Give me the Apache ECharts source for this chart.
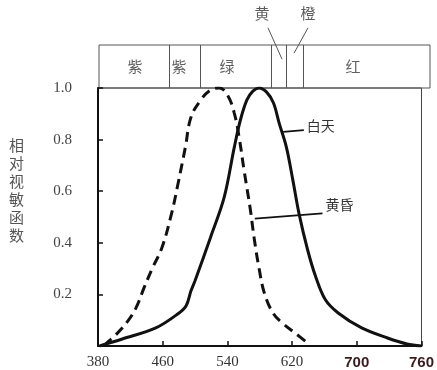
<!DOCTYPE html>
<html>
<head>
<meta charset="utf-8">
<script src="https://cdn.jsdelivr.net/npm/echarts@6/dist/echarts.min.js"></script>
<style>
html,body{margin:0;padding:0;background:#fff;}
#chart{width:437px;height:370px;}
</style>
</head>
<body>
<div id="chart"></div>
<script>
// ---- data ----
const dayWavelength = [382, 410, 451.5, 479, 489, 495, 500, 519, 536, 548.5, 556, 564, 571.5, 579, 588.5, 597, 604, 613, 621, 628.5, 639, 649, 661, 677, 706, 738, 762, 780];
const dayValue      = [0, 0.027, 0.070, 0.125, 0.156, 0.214, 0.253, 0.42, 0.576, 0.77, 0.875, 0.953, 0.988, 1.0, 0.984, 0.942, 0.864, 0.77, 0.642, 0.514, 0.375, 0.27, 0.18, 0.128, 0.07, 0.031, 0.008, 0];
const duskWavelength = [388, 391, 400.6, 415, 427, 437, 447, 459, 471, 479, 488, 495, 507, 519, 530, 540, 548.5, 554.5, 560.6, 568, 573, 579, 586, 597, 609, 625, 640.6];
const duskValue      = [0, 0.012, 0.039, 0.089, 0.148, 0.226, 0.30, 0.381, 0.514, 0.63, 0.77, 0.887, 0.953, 0.992, 1.0, 0.973, 0.903, 0.809, 0.681, 0.537, 0.42, 0.304, 0.202, 0.125, 0.086, 0.047, 0.008];
const xTickLabels = ['380', '460', '540', '620', '700', '760'];
const yTickLabels = ['', '0.2', '0.4', '0.6', '0.8', '1.0'];
const bandBounds = [465, 502, 588, 606, 627];
const bandNames = ['紫', '紫', '绿', '红'];
const bandNamePos = [423.5, 476.7, 534.7, 687];
const calloutNames = ['黄', '橙'];
const calloutTextPos = [[577, 1.74], [632.6, 1.74]];
const calloutLines = [[[584.2, 1.40], [601.2, 0.67]], [[632.6, 1.40], [615.7, 0.81]]];
const seriesNames = ['白天', '黄昏'];
const seriesLeaders = [[[609, 0.83], [634.5, 0.837]], [[573.9, 0.494], [657.6, 0.514]]];

const zip = (a, b) => a.map((v, i) => [v, b[i]]);
const cjk = '"Noto Sans CJK SC", "Noto Sans", sans-serif';

const chart = echarts.init(document.getElementById('chart'), null, {renderer: 'canvas'});

const series = [
  {
    name: seriesNames[0], type: 'line', xAxisIndex: 0, yAxisIndex: 0,
    data: zip(dayWavelength, dayValue), smooth: 0.35, showSymbol: false, symbol: 'none',
    lineStyle: {color: '#111', width: 3}, z: 5
  },
  {
    name: seriesNames[1], type: 'line', xAxisIndex: 0, yAxisIndex: 0,
    data: zip(duskWavelength, duskValue), smooth: 0.4, showSymbol: false, symbol: 'none',
    lineStyle: {color: '#111', width: 3, type: [10, 6]}, z: 5
  }
];

// leader lines for series names
seriesLeaders.forEach((seg, i) => {
  series.push({
    type: 'line', xAxisIndex: 0, yAxisIndex: 0, silent: true,
    data: seg, symbol: 'none', showSymbol: false,
    lineStyle: {color: '#111', width: 1.8}, z: 6,
    endLabel: {
      show: true, distance: 3, formatter: seriesNames[i],
      offset: [0, i === 0 ? -4 : -9],
      color: '#333', fontSize: 14, fontFamily: cjk
    }
  });
});

// band box: dividers and labels
series.push({
  type: 'line', xAxisIndex: 1, yAxisIndex: 1, data: [], silent: true,
  markLine: {
    symbol: 'none', silent: true, animation: false,
    label: {show: false},
    lineStyle: {color: '#555', width: 1, type: 'solid'},
    data: bandBounds.map(b => ({xAxis: b}))
  }
});
series.push({
  type: 'scatter', xAxisIndex: 1, yAxisIndex: 1, silent: true,
  symbolSize: 0,
  data: bandNames.map((n, i) => ({value: [bandNamePos[i], 0.5], name: n})),
  label: {show: true, position: 'inside', formatter: p => p.name, color: '#3a3a3a', fontSize: 15, fontFamily: cjk}
});
series.push({
  type: 'scatter', xAxisIndex: 1, yAxisIndex: 1, silent: true, clip: false,
  symbolSize: 0,
  data: calloutNames.map((n, i) => ({value: calloutTextPos[i], name: n})),
  label: {show: true, position: 'inside', formatter: p => p.name, color: '#333', fontSize: 15, fontFamily: cjk}
});
calloutLines.forEach(seg => {
  series.push({
    type: 'line', xAxisIndex: 1, yAxisIndex: 1, silent: true, clip: false,
    data: seg, symbol: 'none', showSymbol: false,
    lineStyle: {color: '#555', width: 1}
  });
});

const option = {
  animation: false,
  backgroundColor: '#fff',
  grid: [
    {left: 98, right: 9, top: 88, bottom: 24, show: true, borderColor: '#444', borderWidth: 1},
    {left: 99, right: 7, top: 45, height: 43, show: true, borderColor: '#555', borderWidth: 1}
  ],
  xAxis: [
    {
      type: 'value', gridIndex: 0, min: 380, max: 780, interval: 80,
      axisLine: {show: true, lineStyle: {color: '#111', width: 2}},
      axisTick: {show: true, inside: true, length: 5, lineStyle: {color: '#111', width: 1.5}},
      splitLine: {show: false},
      axisLabel: {
        margin: 9,
        formatter: v => {
          const i = Math.round((v - 380) / 80);
          const t = xTickLabels[i];
          return i >= 4 ? '{b|' + t + '}' : '{a|' + t + '}';
        },
        rich: {
          a: {fontFamily: '"Liberation Serif", serif', fontSize: 15, color: '#333'},
          b: {fontFamily: '"Liberation Sans", Arial, sans-serif', fontSize: 15, fontWeight: 'bold', color: '#3a1c1c'}
        }
      }
    },
    {type: 'value', gridIndex: 1, min: 380, max: 780, show: false}
  ],
  yAxis: [
    {
      type: 'value', gridIndex: 0, min: 0, max: 1, interval: 0.2,
      name: '相\n对\n视\n敏\n函\n数\n\n\n',
      nameLocation: 'middle', nameRotate: 0, nameGap: 74,
      nameTextStyle: {color: '#555', fontSize: 15, fontFamily: cjk, lineHeight: 18},
      axisLine: {show: true, lineStyle: {color: '#111', width: 2}},
      axisTick: {show: true, inside: true, length: 5, lineStyle: {color: '#111', width: 1.5}},
      splitLine: {show: false},
      axisLabel: {
        margin: 26,
        formatter: v => yTickLabels[Math.round(v / 0.2)],
        fontFamily: '"Liberation Serif", serif', fontSize: 15, color: '#444',
        padding: [0, 0, 14, 0]
      }
    },
    {type: 'value', gridIndex: 1, min: 0, max: 1, show: false}
  ],
  series: series
};
chart.setOption(option);
</script>
</body>
</html>
